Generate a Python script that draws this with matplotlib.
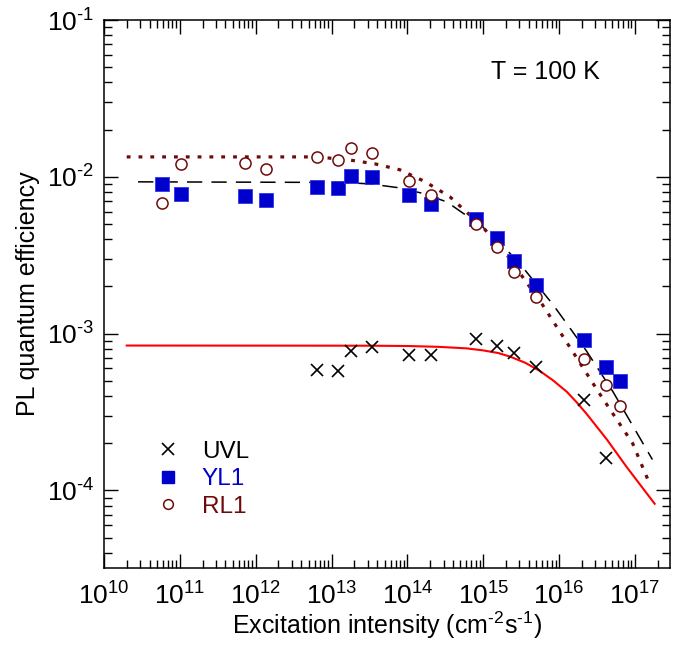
import matplotlib
matplotlib.use("Agg")
import matplotlib.pyplot as plt
from matplotlib.ticker import LogLocator, NullFormatter, FuncFormatter
from matplotlib.lines import Line2D
import numpy as np

plt.rcParams['font.family'] = ['Liberation Sans', 'DejaVu Sans']
plt.rcParams['mathtext.fontset'] = 'custom'
plt.rcParams['mathtext.rm'] = 'Liberation Sans'
plt.rcParams['mathtext.it'] = 'Liberation Sans:italic'
plt.rcParams['mathtext.default'] = 'regular'

# ---- data (log10 of excitation intensity) ----
log_x_all = [10.76, 11.02, 11.86, 12.13, 12.81, 13.08, 13.26, 13.53, 14.02, 14.31,
             14.90, 15.18, 15.40, 15.69, 16.33, 16.62, 16.80]
yl1 = [9.0e-3, 7.8e-3, 7.57e-3, 7.14e-3, 8.63e-3, 8.5e-3, 1.015e-2, 1.0e-2, 7.68e-3, 6.73e-3,
       5.40e-3, 4.08e-3, 2.92e-3, 2.05e-3, 9.16e-4, 6.17e-4, 5.02e-4]
rl1 = [6.8e-3, 1.21e-2, 1.23e-2, 1.12e-2, 1.34e-2, 1.28e-2, 1.53e-2, 1.42e-2, 9.4e-3, 7.7e-3,
       5.02e-3, 3.58e-3, 2.48e-3, 1.72e-3, 6.9e-4, 4.67e-4, 3.47e-4]
log_x_uvl = [12.81, 13.08, 13.26, 13.53, 14.02, 14.31, 14.90, 15.18, 15.40, 15.69, 16.33, 16.62]
uvl = [5.9e-4, 5.8e-4, 7.8e-4, 8.27e-4, 7.35e-4, 7.35e-4, 9.29e-4, 8.39e-4, 7.57e-4, 6.17e-4,
       3.8e-4, 1.62e-4]

# fit curves (log10 x, log10 y)
fit_uvl_lx = [10.30, 13.50, 14.00, 14.40, 14.78, 15.00, 15.20, 15.35, 15.55, 15.74, 15.92,
              16.10, 16.23, 16.36, 16.63, 16.89, 17.26]
fit_uvl_ly = [-3.076, -3.077, -3.079, -3.084, -3.094, -3.107, -3.124, -3.146, -3.185, -3.236,
              -3.298, -3.370, -3.437, -3.510, -3.675, -3.850, -4.085]
fit_yl1_lx = [10.45, 13.15, 13.50, 13.86, 14.20, 14.52, 14.99, 15.44, 15.92, 16.36, 16.71, 17.23]
fit_yl1_ly = [-2.032, -2.036, -2.045, -2.068, -2.105, -2.160, -2.318, -2.529, -2.815, -3.110,
              -3.370, -3.803]
fit_rl1_lx = [10.30, 12.81, 13.24, 13.57, 13.90, 14.23, 14.56, 14.99, 15.31, 15.78, 16.18,
              16.53, 16.97, 17.17]
fit_rl1_ly = [-1.873, -1.873, -1.893, -1.917, -1.955, -2.030, -2.127, -2.318, -2.497, -2.815,
              -3.115, -3.380, -3.700, -3.930]

labels = ['UVL', 'YL1', 'RL1']
blue = '#0000CC'
dred = '#6E0A0A'

fig = plt.figure(figsize=(6.75, 6.52), dpi=100)
ax = fig.add_axes([0.154, 0.1288, 0.8386, 0.8405])

def p10(a):
    return np.power(10.0, np.asarray(a))

ax.plot(p10(fit_uvl_lx), p10(fit_uvl_ly), color='red', lw=1.5)
ax.plot(p10(fit_yl1_lx), p10(fit_yl1_ly), color='black', lw=1.1,
        linestyle=(0, (10, 6)))
ax.plot(p10(fit_rl1_lx), p10(fit_rl1_ly), color=dred, lw=2.3,
        linestyle=(0, (1.2, 2.5)), dash_capstyle='butt')

ax.plot(p10(log_x_uvl), uvl, linestyle='none', marker='x', ms=9, mew=1.2, color='black')
ax.plot(p10(log_x_all), yl1, linestyle='none', marker='s', ms=9.5, mfc=blue, mec='#3333EE', mew=0.6)
ax.plot(p10(log_x_all), rl1, linestyle='none', marker='o', ms=8, mfc='white', mec=dred, mew=1.1)

ax.set_xscale('log')
ax.set_yscale('log')
ax.set_xlim(1e10, 2.9e17)
ax.set_ylim(3.2e-5, 1e-1)

def fmt(v, pos):
    e = int(round(np.log10(v)))
    s = str(e).replace('-', '\u2010')
    return '10$^{%s}$' % s

for a in (ax.xaxis, ax.yaxis):
    a.set_major_locator(LogLocator(base=10, numticks=20))
    a.set_minor_locator(LogLocator(base=10, subs=np.arange(2, 10), numticks=20))
    a.set_minor_formatter(NullFormatter())
    a.set_major_formatter(FuncFormatter(fmt))

ax.tick_params(which='both', direction='in', top=True, right=True, width=1.0, labelsize=19)
ax.tick_params(which='major', length=10)
ax.tick_params(which='minor', length=5.5)
ax.tick_params(axis='x', which='major', pad=10)
ax.tick_params(axis='y', which='major', pad=7)
for s in ax.spines.values():
    s.set_linewidth(1.1)

ax.set_xlabel('Excitation intensity (cm$^{\u20102}$s$^{\u20101}$)', fontsize=18, labelpad=0)
ax.set_ylabel('PL quantum efficiency', fontsize=18, labelpad=5)

ax.text(0.683, 0.905, 'T = 100 K', transform=ax.transAxes, fontsize=18, ha='left', va='center')

handles = [
    Line2D([], [], linestyle='none', marker='x', ms=8, mew=1.2, color='black'),
    Line2D([], [], linestyle='none', marker='s', ms=9, mfc=blue, mec=blue),
    Line2D([], [], linestyle='none', marker='o', ms=7, mfc='white', mec=dred, mew=1.1),
]
leg = ax.legend(handles, labels, loc='lower left', bbox_to_anchor=(0.07, 0.07),
                frameon=False, fontsize=17.5, handlelength=1.0, handletextpad=0.9,
                labelspacing=0.22, borderpad=0)
for t, c in zip(leg.get_texts(), ['black', blue, dred]):
    t.set_color(c)

fig.savefig('out.png', dpi=100)
